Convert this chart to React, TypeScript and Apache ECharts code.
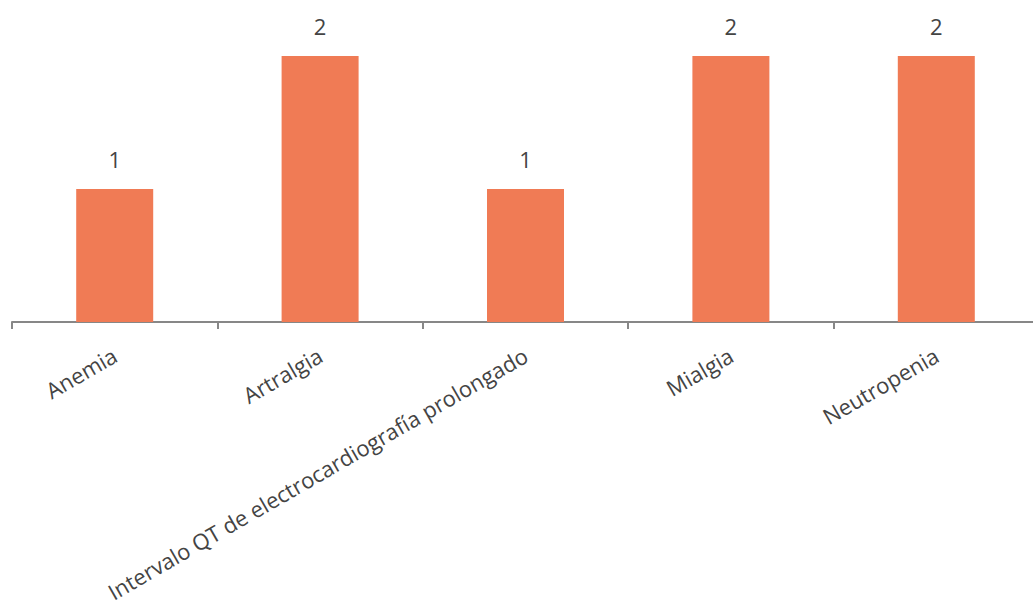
import React, { useEffect, useRef } from "react";
import * as echarts from "echarts";

// Adverse events and number of cases
const categories: string[] = [
  "Anemia",
  "Artralgia",
  "Intervalo QT de electrocardiografía prolongado",
  "Mialgia",
  "Neutropenia",
];
const counts: number[] = [1, 2, 1, 2, 2];

const BAR_COLOR = "#F07B55";
const AXIS_COLOR = "#878787";
const TEXT_COLOR = "#444444";
const FONT = "'Open Sans', 'Noto Sans', sans-serif";

export default function App() {
  const ref = useRef<HTMLDivElement>(null);

  useEffect(() => {
    if (!ref.current) return;
    const chart = echarts.init(ref.current, undefined, { renderer: "svg" });
    chart.setOption({
      animation: false,
      backgroundColor: "#ffffff",
      textStyle: { fontFamily: FONT },
      grid: {
        left: 12,
        right: -6,
        top: 56,
        height: 266,
        containLabel: false,
        outerBoundsMode: "none",
      },
      xAxis: {
        type: "category",
        data: categories,
        axisLine: { show: true, lineStyle: { color: AXIS_COLOR, width: 2 } },
        axisTick: { show: true, length: 7, lineStyle: { color: AXIS_COLOR, width: 2 } },
        axisLabel: {
          interval: 0,
          rotate: 30,
          margin: 31,
          fontSize: 22,
          color: TEXT_COLOR,
          fontFamily: FONT,
        },
        splitLine: { show: false },
      },
      yAxis: {
        type: "value",
        min: 0,
        max: 2,
        show: false,
        splitLine: { show: false },
      },
      series: [
        {
          type: "bar",
          data: counts,
          barWidth: 77,
          itemStyle: { color: BAR_COLOR },
          label: {
            show: true,
            position: "top",
            distance: 19,
            fontSize: 22,
            color: TEXT_COLOR,
            fontFamily: FONT,
          },
        },
      ],
    });
    return () => chart.dispose();
  }, []);

  return (
    <div
      ref={ref}
      style={{ position: "absolute", left: 0, top: 0, width: 1033, height: 611 }}
    />
  );
}
